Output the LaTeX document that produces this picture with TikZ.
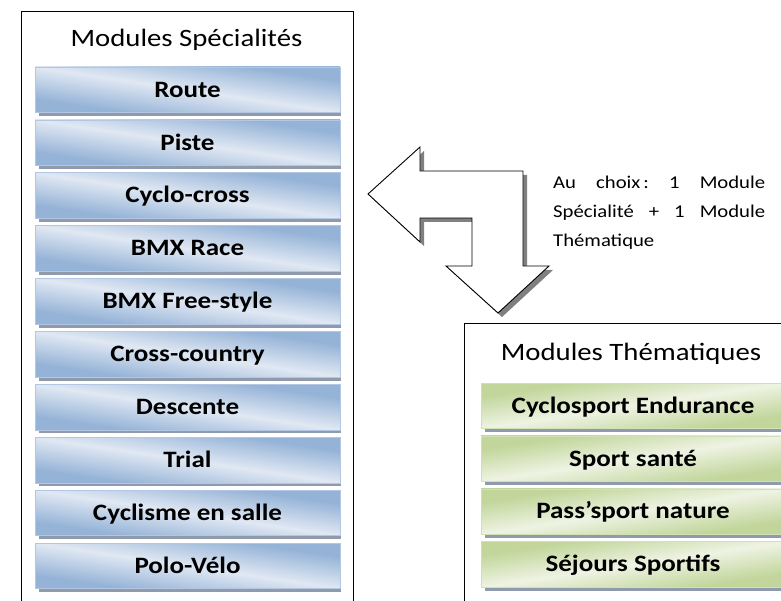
\documentclass[tikz,border=0pt]{standalone}
\usepackage{fontspec}
\setmainfont{Carlito}[FakeStretch=1.15]
\usetikzlibrary{shadings}
\definecolor{bdark}{HTML}{95B3D7}
\definecolor{blight}{HTML}{E0E8F3}
\definecolor{bedge}{HTML}{B3C7E2}
\definecolor{gdark}{HTML}{C2D69B}
\definecolor{glight}{HTML}{EEF3E3}
\definecolor{gedge}{HTML}{D2E1B5}
\definecolor{shad}{HTML}{8F9BAD}
\begin{document}
\begin{tikzpicture}[x=1pt,y=-1pt,
  frame/.style={draw=black,line width=0.9pt},
  ttl/.style={font=\fontsize{25}{28}\selectfont,anchor=base},
  barbase/.style={rectangle,minimum height=45.5pt,inner sep=0pt,line width=0.6pt,
     font=\bfseries\fontsize{23.5}{26}\selectfont,text height=14.8pt,text depth=0pt},
  bluebar/.style={barbase,minimum width=305pt,draw=bedge},
  greenbar/.style={barbase,minimum width=304pt,draw=gedge},
  blueshade/.style={top color=bdark,bottom color=bdark,middle color=blight,shading angle=-45},
  greenshade/.style={top color=gdark,bottom color=gdark,middle color=glight,shading angle=45},
  barshadow/.style={fill=shad},
  arrowshape/.style={draw=black,line width=0.9pt,fill=white,line join=miter},
  arrowshadow/.style={fill=black!50},
  note/.style={font=\fontsize{18}{29}\selectfont,anchor=north west,inner sep=0pt,text width=212pt}
]
\useasboundingbox (0,0) rectangle (781,601);
% frames
\draw[frame] (21,620) -- (21,11) -- (353.5,11) -- (353.5,620);
\draw[frame] (464,620) -- (464,323) -- (800,323);
\node[ttl] (t1) at (186.5,47) {Modules Spécialités};
\node[ttl] (t2) at (631,360) {Modules Thématiques};
% left bars
\foreach \lab [count=\i from 0] in {Route,Piste,Cyclo-cross,BMX Race,BMX Free-style,Cross-country,Descente,Trial,Cyclisme en salle,Polo-Vélo}{
  \pgfmathsetmacro{\yc}{67+52.9*\i+22.75}
  \fill[barshadow] (38.5,{67+52.9*\i+4}) rectangle (341,{67+52.9*\i+49});
  \shade[blueshade,transform canvas={shift={(187.5,\yc)},xscale=6.703}] (-22.75,-22.75) rectangle (22.75,22.75);
  \node[bluebar] (L\i) at (187.5,\yc) {\lab};
}
% right bars
\foreach \lab [count=\i from 0] in {Cyclosport Endurance,Sport santé,Pass’sport nature,Séjours Sportifs}{
  \pgfmathsetmacro{\yc}{383+52.9*\i+22.75}
  \fill[barshadow] (484.5,{383+52.9*\i+4}) rectangle (790,{383+52.9*\i+49});
  \shade[greenshade,transform canvas={shift={(633,\yc)},xscale=6.681}] (-22.75,-22.75) rectangle (22.75,22.75);
  \node[greenbar] (R\i) at (633,\yc) {\lab};
}
% double arrow
\begin{scope}[shift={(4,4)}]
\fill[arrowshadow] (368,194) -- (420,147) -- (420,171) -- (523,171) -- (523,266) -- (549,266) -- (498,313) -- (446,266) -- (472,266) -- (472,218) -- (420,218) -- (420,242) -- cycle;
\end{scope}
\draw[arrowshape] (368,194) -- (420,147) -- (420,171) -- (523,171) -- (523,266) -- (549,266) -- (498,313) -- (446,266) -- (472,266) -- (472,218) -- (420,218) -- (420,242) -- cycle;
\node[note] (n) at (553,176) {%
\hbox to 212pt{Au\hfill choix\,:\hfill 1\hfill Module}\par
\hbox to 212pt{Spécialité\hfill +\hfill 1\hfill Module}\par
Thématique};
\end{tikzpicture}
\end{document}
